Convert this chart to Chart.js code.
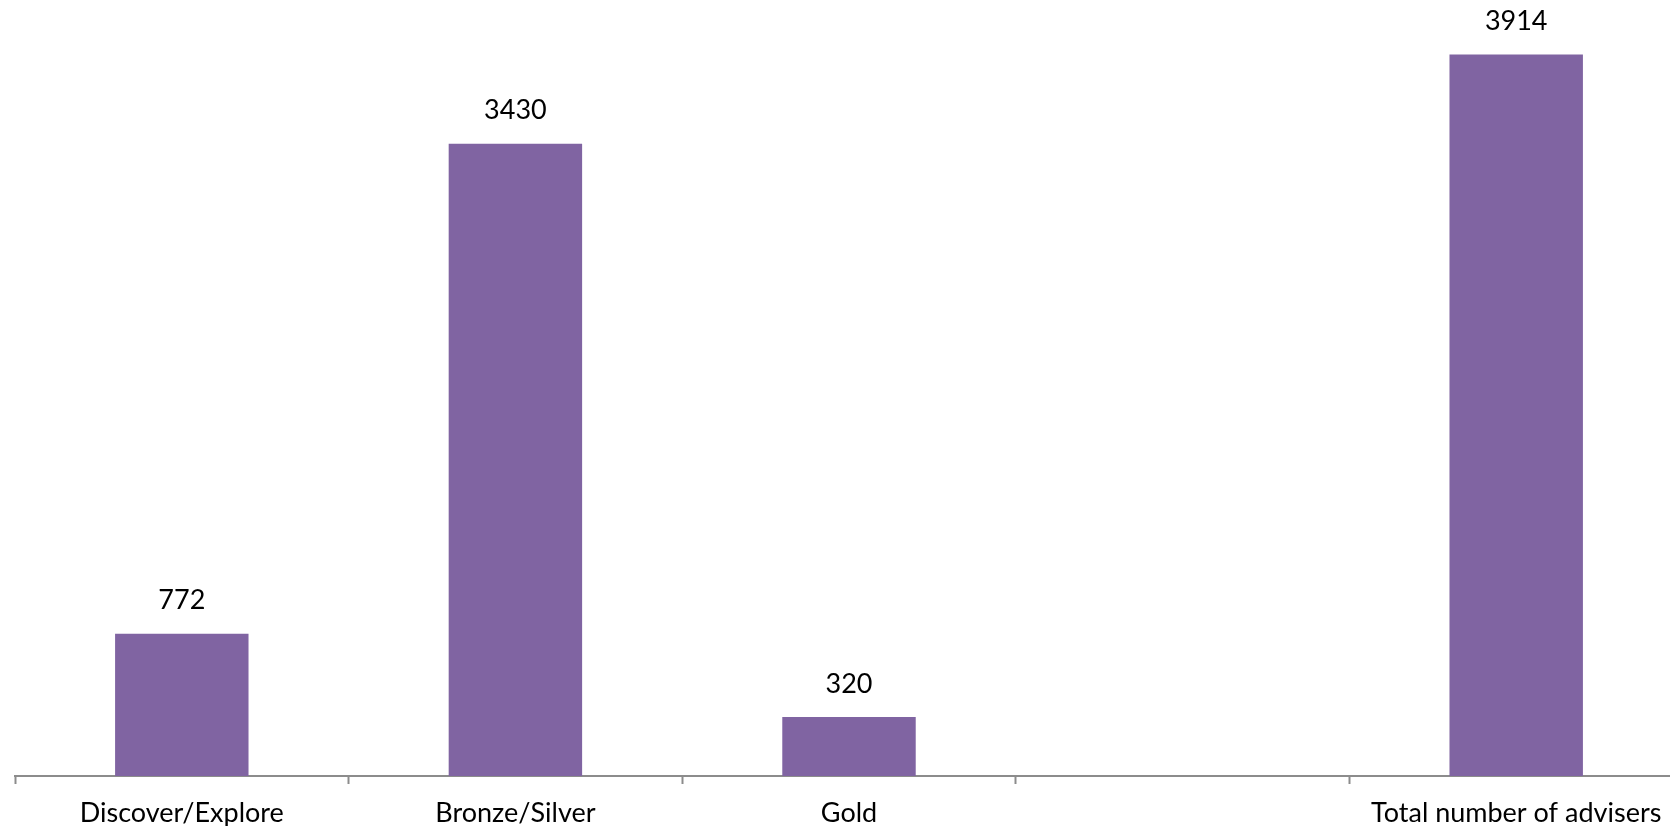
<!DOCTYPE html>
<html>
<head>
<meta charset="utf-8">
<script src="https://cdn.jsdelivr.net/npm/chart.js@4"></script>
<style>
  html, body { margin: 0; padding: 0; background: #fff; overflow: hidden; }
  #wrap { position: relative; width: 1683px; height: 826px; }
</style>
</head>
<body>
<div id="wrap"><canvas id="advisersChart"></canvas></div>
<script>
// ================= DATA =================
const categories = ["Discover/Explore", "Bronze/Silver", "Gold", "", "Total number of advisers"];
const advisers = [772, 3430, 320, null, 3914];

const barColor = "#8064A2";
const axisColor = "#8C8C8C";
const fontFamily = "Lato, 'Open Sans', sans-serif";

// ================= VALUE LABELS =================
const valueLabels = {
  id: "valueLabels",
  afterDatasetsDraw(chart) {
    const ctx = chart.ctx;
    const meta = chart.getDatasetMeta(0);
    ctx.save();
    ctx.font = "27px " + fontFamily;
    ctx.fillStyle = "#000";
    ctx.textAlign = "center";
    ctx.textBaseline = "middle";
    meta.data.forEach((bar, i) => {
      if (advisers[i] == null) return;
      ctx.fillText(advisers[i], bar.x, bar.y - 33);
    });
    ctx.restore();
  }
};

// ================= CHART =================
const ctx = document.getElementById("advisersChart").getContext("2d");
new Chart(ctx, {
  type: "bar",
  data: {
    labels: categories,
    datasets: [{
      data: advisers,
      backgroundColor: barColor,
      borderWidth: 0,
      barPercentage: 0.4,
      categoryPercentage: 1
    }]
  },
  options: {
    responsive: true,
    maintainAspectRatio: false,
    animation: false,
    layout: { padding: { left: 15, right: 0, top: 0, bottom: 0 } },
    plugins: {
      legend: { display: false },
      tooltip: { enabled: false }
    },
    scales: {
      x: {
        afterFit(scale) { scale.height = 50; },
        grid: {
          offset: true,
          drawOnChartArea: false,
          drawTicks: true,
          tickLength: 8,
          tickWidth: 2,
          color: axisColor
        },
        border: { color: axisColor, width: 2 },
        ticks: {
          color: "#000",
          padding: 13,
          maxRotation: 0,
          autoSkip: false,
          font: { family: fontFamily, size: 27 }
        }
      },
      y: {
        display: false,
        min: 0,
        max: 4210
      }
    }
  },
  plugins: [valueLabels]
});
</script>
</body>
</html>
